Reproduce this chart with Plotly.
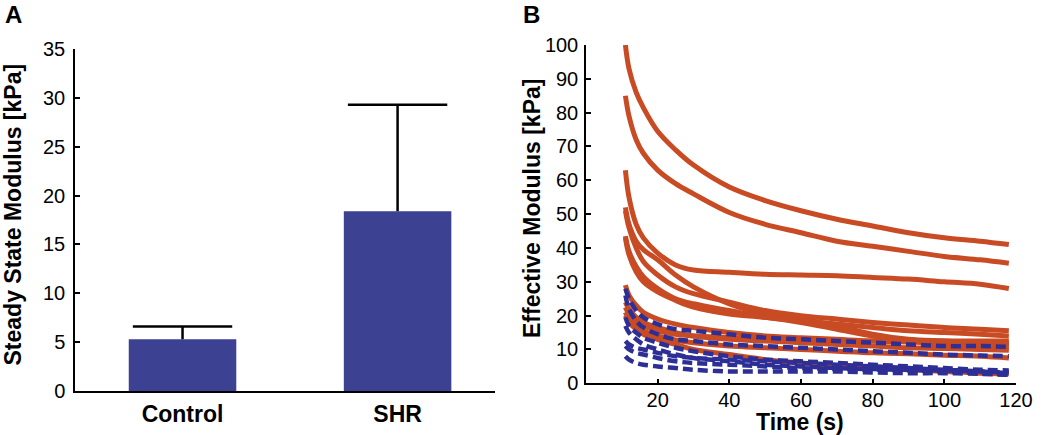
import plotly.graph_objects as go

# panel A: steady state modulus (mean + SD)
groups = ["Control", "SHR"]
steady_mean = [5.3, 18.4]
steady_sd = [1.3, 10.9]

# panel B: effective modulus relaxation curves
time_s = [11, 12, 14, 16, 20, 25, 30, 40, 50, 60, 70, 80, 90, 100, 110, 118]

shr_curves = [
    [100, 93, 86, 81.5, 74.5, 69, 64.5, 58, 54, 51, 48.5, 46.5, 44.5, 43, 42, 41],
    [85, 79, 72, 68, 63, 59, 56, 50.5, 47, 44.5, 42, 40.5, 39, 37.5, 36.5, 35.5],
    [63, 55, 47, 43, 38.5, 35, 33.5, 32.8, 32.2, 32, 31.8, 31.3, 30.8, 30, 29.3, 28],
    [52, 47, 42, 39.5, 36.5, 32, 28.5, 23.5, 20.5, 19, 17, 14.5, 13, 12.5, 12, 12],
    [51, 46, 40, 36, 32, 28.5, 26.5, 24, 21.5, 20, 19, 18, 17.2, 16.5, 16, 15.5],
    [43.5, 39, 34.5, 31.5, 28, 25, 23.5, 21.5, 19.5, 18.5, 17.5, 16.5, 15.5, 15, 14.5, 14],
    [43, 38, 33, 30, 27, 24.5, 22.5, 20.5, 19.5, 18, 16, 14, 12.5, 11.5, 11, 10.5],
    [29, 26, 23, 21, 19, 17.5, 16.5, 15, 14, 13.5, 13, 12.5, 12.2, 12, 11.8, 11.5],
    [24, 22, 19.5, 18, 16.5, 15, 14, 13, 12.5, 12, 11.5, 11, 10.5, 10.3, 10, 9.8],
    [22.5, 20.5, 18.5, 17, 15.5, 14.5, 14, 13.5, 13, 12.8, 12.7, 12.5, 12.5, 12.5, 12.5, 12.5],
    [21, 19, 17, 15.5, 14, 12.8, 12, 11, 10.5, 10, 9.5, 9, 8.7, 8.3, 8, 7.5],
    [20, 18, 16, 14.5, 13, 11.5, 10, 8.5, 7, 6, 5, 4.5, 4, 3.5, 3, 2.8],
]

control_curves = [
    [28, 25, 21.5, 19.5, 17.5, 16, 15.5, 14.5, 13.5, 13, 12.5, 12, 11.5, 11, 11, 10.8],
    [26, 22, 18.5, 16.5, 14.5, 13, 12.5, 11.5, 11, 10.5, 10, 9.5, 9, 8.5, 8.2, 8],
    [19.5, 17, 15, 13.5, 12, 10.5, 9.5, 8, 7, 6.5, 6, 5.5, 5, 4.5, 4, 3.8],
    [17, 15, 13, 11.5, 10, 8.5, 7.5, 6.5, 5.5, 5, 4.5, 4.2, 4, 3.8, 3.5, 3.2],
    [12.5, 11.5, 10.5, 10, 9, 8, 7.5, 7, 6.5, 6, 5.5, 5, 4.5, 4, 3.5, 3],
    [11, 10, 9, 8.5, 7.5, 6.5, 6, 5.5, 5, 4.5, 4.2, 4, 3.8, 3.5, 3, 2.5],
    [8, 7, 6, 5.5, 5, 4.5, 4, 3.5, 3.5, 3.5, 3.5, 3.2, 3, 3, 2.8, 2.5],
]

FONT = "Liberation Sans, Arial, Helvetica, sans-serif"
W, H = 1050, 435
bar_color = "#3c4192"
red = "#c84b24"
blue = "#2d2f96"

fig = go.Figure()

# bars with upward-only error line (caps drawn as line markers at the top)
fig.add_trace(go.Bar(
    x=[0, 1], y=steady_mean, width=0.5,
    marker=dict(color=bar_color, line=dict(width=0)),
    error_y=dict(type="data", array=steady_sd, symmetric=False, arrayminus=[0, 0],
                 color="black", thickness=2.5, width=0),
    xaxis="x", yaxis="y", showlegend=False,
))
fig.add_trace(go.Scatter(
    x=[0, 1], y=[m + s for m, s in zip(steady_mean, steady_sd)], mode="markers",
    marker=dict(symbol="line-ew", size=71, line=dict(width=2.5, color="black")),
    xaxis="x", yaxis="y", showlegend=False, hoverinfo="skip",
))

for ys in shr_curves:
    fig.add_trace(go.Scatter(
        x=time_s, y=ys, mode="lines", line=dict(color=red, width=5, shape="spline"),
        xaxis="x2", yaxis="y2", showlegend=False,
    ))
for ys in control_curves:
    fig.add_trace(go.Scatter(
        x=time_s, y=ys, mode="lines",
        line=dict(color=blue, width=4.5, dash="10px,5px", shape="spline"),
        xaxis="x2", yaxis="y2", showlegend=False,
    ))

axis_common = dict(showline=True, linecolor="black", linewidth=1.5, showgrid=False,
                   zeroline=False, ticks="inside", ticklen=5, tickwidth=1.5,
                   tickcolor="black", automargin=False,
                   tickfont=dict(family=FONT, size=20, color="black"))

fig.update_layout(
    width=W, height=H,
    margin=dict(l=0, r=0, t=0, b=0, pad=0, autoexpand=False),
    paper_bgcolor="white", plot_bgcolor="white",
    font=dict(family=FONT, color="black"),
    xaxis=dict(axis_common, domain=[75 / W, 495 / W], range=[-0.5, 1.453],
               tickvals=[0, 1], ticktext=groups, ticks="",
               tickfont=dict(family=FONT, size=23, color="black", weight="bold"),
               anchor="y", ticklabelstandoff=2),
    yaxis=dict(axis_common, domain=[1 - 391 / H, 1 - 49 / H], range=[0, 35],
               dtick=5, anchor="x", ticklabelstandoff=4),
    xaxis2=dict(axis_common, domain=[586 / W, 1016 / W], range=[0, 120],
                tickvals=[20, 40, 60, 80, 100, 120], anchor="y2", ticklabelstandoff=-2),
    yaxis2=dict(axis_common, domain=[1 - 383.3 / H, 1 - 45 / H], range=[0, 100],
                dtick=10, anchor="x2", ticklabelstandoff=2),
)

title_font = dict(family=FONT, size=23, color="black", weight="bold")
annotations = [
    dict(text="A", x=13 / W, y=1 - 15 / H, font=dict(title_font, size=24)),
    dict(text="B", x=531 / W, y=1 - 14 / H, font=dict(title_font, size=24)),
    dict(text="Steady State Modulus [kPa]", x=12.5 / W, y=1 - 215 / H, textangle=-90),
    dict(text="Effective Modulus [kPa]", x=532 / W, y=1 - 209 / H, textangle=-90),
    dict(text="Time (s)", x=800 / W, y=1 - 422 / H),
]
for a in annotations:
    a.setdefault("font", title_font)
    fig.add_annotation(xref="paper", yref="paper", showarrow=False,
                       xanchor="center", yanchor="middle", **a)

# drop the page's default body margin so the figure fills the window exactly
fig.write_html("out.html", config={"displayModeBar": False},
               post_script="document.body.style.margin='0';")
